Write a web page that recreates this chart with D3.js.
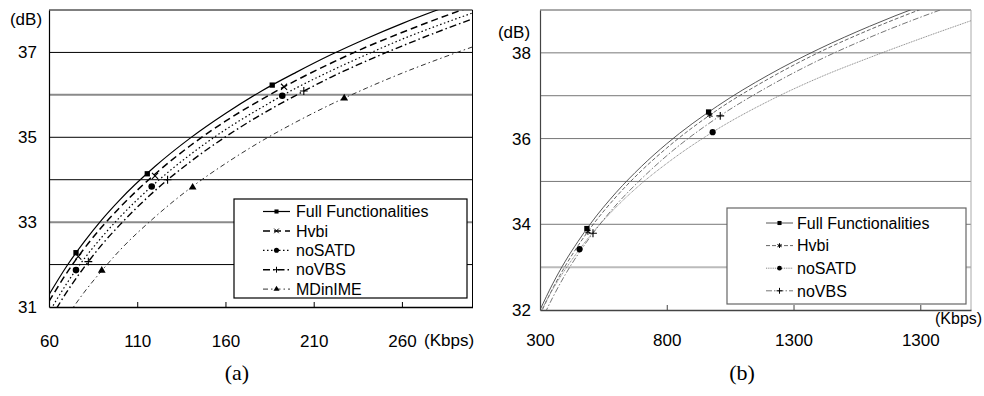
<!DOCTYPE html>
<html>
<head>
<meta charset="utf-8">
<script src="https://cdn.jsdelivr.net/npm/d3@7"></script>
<style>
  body { margin: 0; background: #fff; }
  text { font-family: "Liberation Sans", Arial, sans-serif; }
</style>
</head>
<body>
<svg id="chart" width="984" height="396"></svg>
<script>
// ---- panel (a) data: bit rate (Kbps) vs PSNR (dB) ----
const rateA = [60, 70, 80, 90, 100, 120, 140, 160, 180, 200, 220, 240, 260, 280, 300];
const fullA = [31.29, 31.96, 32.54, 33.06, 33.52, 34.31, 34.98, 35.56, 36.08, 36.53, 36.95, 37.33, 37.68, 38.00, 38.30];
const hvbiA = [31.13, 31.80, 32.38, 32.89, 33.34, 34.13, 34.80, 35.38, 35.88, 36.34, 36.75, 37.13, 37.47, 37.79, 38.09];
const nosatdA = [30.87, 31.55, 32.14, 32.65, 33.11, 33.91, 34.59, 35.18, 35.69, 36.16, 36.57, 36.95, 37.31, 37.63, 37.93];
const novbsA = [30.67, 31.35, 31.94, 32.47, 32.93, 33.74, 34.42, 35.01, 35.53, 35.99, 36.42, 36.80, 37.15, 37.48, 37.79];
const mdinimeA = [30.09, 30.76, 31.35, 31.86, 32.33, 33.12, 33.80, 34.38, 34.90, 35.36, 35.78, 36.16, 36.51, 36.83, 37.13];
// measured points (markers)
const fullPtsA = [[75.3, 32.28], [115.7, 34.14], [186.5, 36.23]];
const hvbiPtsA = [[76.6, 32.19], [120.1, 34.09], [193.2, 36.19]];
const nosatdPtsA = [[75.3, 31.87], [118.2, 33.84], [192.2, 35.98]];
const novbsPtsA = [[82.3, 32.07], [127.2, 34.00], [204.4, 36.09]];
const mdinimePtsA = [[89.9, 31.86], [141.4, 33.82], [227.3, 35.92]];
const xTicksA = [60, 110, 160, 210, 260];
const xLabelsA = ["60", "110", "160", "210", "260"];
const yTicksA = [31, 33, 35, 37];
const gridA = [32, 33, 34, 35, 36, 37];

// ---- panel (b) data ----
const rateB = [300, 350, 400, 450, 500, 600, 700, 800, 1000, 1200, 1400, 1600, 1800, 2000];
const fullB = [32.00, 32.61, 33.14, 33.60, 34.02, 34.74, 35.35, 35.88, 36.76, 37.48, 38.09, 38.62, 39.09, 39.50];
const hvbiB = [31.89, 32.50, 33.03, 33.50, 33.92, 34.64, 35.25, 35.78, 36.67, 37.39, 38.01, 38.54, 39.01, 39.42];
const nosatdB = [31.93, 32.48, 32.95, 33.37, 33.75, 34.40, 34.95, 35.42, 36.22, 36.87, 37.42, 37.89, 38.33, 38.75];
const novbsB = [31.68, 32.29, 32.83, 33.30, 33.72, 34.45, 35.06, 35.60, 36.49, 37.21, 37.83, 38.36, 38.83, 39.25];
const fullPtsB = [[485, 33.90], [965, 36.62]];
const hvbiPtsB = [[489, 33.83], [970, 36.55]];
const nosatdPtsB = [[456, 33.42], [981, 36.15]];
const novbsPtsB = [[509, 33.79], [1011, 36.53]];
const xTicksB = [300, 800, 1300, 1800];
const xLabelsB = ["300", "800", "1300", "1300"];
const yTicksB = [32, 34, 36, 38];
const gridB = [33, 34, 35, 36, 37, 38];

const svg = d3.select("#chart");
svg.append("rect").attr("width", 984).attr("height", 396).attr("fill", "#fff");

function drawPanel(p) {
  const x = d3.scaleLinear().domain(p.xDomain).range(p.xRange);
  const y = d3.scaleLinear().domain(p.yDomain).range(p.yRange);
  const [x0, x1] = p.xRange;
  const [yb, yt] = p.yRange;
  const g = svg.append("g");

  // clip for curves
  svg.append("clipPath").attr("id", "clip-" + p.id)
    .append("rect")
    .attr("x", x0).attr("y", yt)
    .attr("width", x1 - x0).attr("height", yb - yt);

  // gridlines
  g.selectAll(".grid").data(p.grid).join("line")
    .attr("x1", x0).attr("x2", x1)
    .attr("y1", (d) => y(d)).attr("y2", (d) => y(d))
    .attr("stroke", (d) => (p.heavyGrid.includes(d) ? p.heavyColor : p.gridColor))
    .attr("stroke-width", (d) => (p.heavyGrid.includes(d) ? p.heavyWidth : 1));

  // frame top / right
  g.append("line").attr("x1", x0).attr("x2", x1).attr("y1", yt).attr("y2", yt)
    .attr("stroke", p.frameColor).attr("stroke-width", 1);
  g.append("line").attr("x1", x1).attr("x2", x1).attr("y1", yt).attr("y2", yb)
    .attr("stroke", p.rightColor).attr("stroke-width", 1);

  // curves
  const line = d3.line()
    .x((d) => x(d[0]))
    .y((d) => y(d[1]))
    .curve(d3.curveMonotoneX);

  const curves = g.append("g").attr("clip-path", `url(#clip-${p.id})`);
  p.series.forEach((s) => {
    curves.append("path")
      .datum(p.rates.map((r, i) => [r, s.values[i]]))
      .attr("d", line)
      .attr("fill", "none")
      .attr("stroke", s.color)
      .attr("stroke-width", s.width)
      .attr("stroke-dasharray", s.dash);
  });

  // markers
  p.series.forEach((s) => {
    g.selectAll(null).data(s.pts).join("path")
      .attr("transform", (d) => `translate(${x(d[0])},${y(d[1])})`)
      .attr("d", d3.symbol(s.symbol, s.size))
      .attr("fill", s.stroke ? "none" : "#000")
      .attr("stroke", s.stroke ? "#000" : "none")
      .attr("stroke-width", 1.1);
  });

  // axes
  const xAxis = d3.axisBottom(x)
    .tickValues(p.xTicks)
    .tickFormat((d, i) => p.xLabels[i])
    .tickSizeInner(-5)
    .tickSizeOuter(0)
    .tickPadding(p.xPad);
  const gx = g.append("g").attr("transform", `translate(0,${yb})`).call(xAxis);
  gx.select(".domain").attr("stroke", p.axisColor).attr("stroke-width", 1.5);
  gx.selectAll(".tick line").attr("stroke", p.axisColor);
  gx.selectAll("text").attr("fill", "#000").style("font-size", "17px")
    .style("font-family", '"Liberation Sans", Arial, sans-serif');

  const yAxis = d3.axisLeft(y)
    .tickValues(p.yTicks)
    .tickFormat(d3.format("d"))
    .tickSize(0)
    .tickPadding(p.yPad);
  const gy = g.append("g").attr("transform", `translate(${x0},0)`).call(yAxis);
  gy.select(".domain").attr("stroke", p.axisColor).attr("stroke-width", 1.2);
  gy.selectAll("text").attr("fill", "#000").style("font-size", "17px")
    .style("font-family", '"Liberation Sans", Arial, sans-serif');

  // unit labels
  g.append("text").attr("x", p.dbPos[0]).attr("y", p.dbPos[1])
    .attr("text-anchor", "middle").style("font-size", "17px").text("(dB)");
  g.append("text").attr("x", p.kbpsPos[0]).attr("y", p.kbpsPos[1])
    .attr("text-anchor", "start").style("font-size", p.kbpsSize).text("(Kbps)");

  // legend
  const lg = g.append("g");
  lg.append("rect")
    .attr("x", p.legend.x).attr("y", p.legend.y)
    .attr("width", p.legend.w).attr("height", p.legend.h)
    .attr("fill", "#fff").attr("stroke", p.legend.stroke).attr("stroke-width", 1.2);
  p.series.forEach((s, i) => {
    const ly = p.legend.rowY + i * p.legend.step;
    lg.append("line")
      .attr("x1", p.legend.sx).attr("x2", p.legend.sx + 27)
      .attr("y1", ly).attr("y2", ly)
      .attr("stroke", s.color).attr("stroke-width", s.width)
      .attr("stroke-dasharray", s.dash);
    lg.append("path")
      .attr("transform", `translate(${p.legend.sx + 13.5},${ly})`)
      .attr("d", d3.symbol(s.symbol, s.size * 0.6))
      .attr("fill", s.stroke ? "none" : "#000")
      .attr("stroke", s.stroke ? "#000" : "none");
    lg.append("text")
      .attr("x", p.legend.tx).attr("y", ly)
      .attr("dy", "0.36em")
      .style("font-size", "16px")
      .text(s.name);
  });

  // caption
  g.append("text").attr("x", p.caption[0]).attr("y", p.caption[1])
    .attr("text-anchor", "middle")
    .style("font-family", '"Liberation Serif", "Times New Roman", serif')
    .style("font-size", "22px")
    .text(p.captionText);
}

drawPanel({
  id: "a",
  xDomain: [60, 300], xRange: [49, 472.5],
  yDomain: [31, 38], yRange: [307, 10],
  rates: rateA,
  grid: gridA, heavyGrid: [33, 36], gridColor: "#000", heavyColor: "#8a8a8a", heavyWidth: 2,
  frameColor: "#000", rightColor: "#000", axisColor: "#000",
  xTicks: xTicksA, xLabels: xLabelsA, xPad: 28, yTicks: yTicksA, yPad: 12,
  dbPos: [26, 25], kbpsPos: [424, 346], kbpsSize: "17px",
  series: [
    { name: "Full Functionalities", values: fullA, pts: fullPtsA, color: "#000", width: 1.2, dash: null, symbol: d3.symbolSquare, size: 28 },
    { name: "Hvbi", values: hvbiA, pts: hvbiPtsA, color: "#000", width: 1.5, dash: "7,4", symbol: d3.symbolX, size: 26, stroke: true },
    { name: "noSATD", values: nosatdA, pts: nosatdPtsA, color: "#000", width: 1.2, dash: "1.5,2.5", symbol: d3.symbolCircle, size: 34 },
    { name: "noVBS", values: novbsA, pts: novbsPtsA, color: "#000", width: 1.4, dash: "7,3,1.5,3", symbol: d3.symbolPlus, size: 22, stroke: true },
    { name: "MDinIME", values: mdinimeA, pts: mdinimePtsA, color: "#333", width: 1, dash: "5,3,1.5,3", symbol: d3.symbolTriangle, size: 26 }
  ],
  legend: { x: 234, y: 199, w: 233, h: 99, stroke: "#000", rowY: 211.5, step: 19.4, sx: 263, tx: 296 },
  caption: [237, 380], captionText: "(a)"
});

drawPanel({
  id: "b",
  xDomain: [300, 2000], xRange: [540, 971],
  yDomain: [32, 39], yRange: [310, 10],
  rates: rateB,
  grid: gridB, heavyGrid: [33], gridColor: "#777", heavyColor: "#bbb", heavyWidth: 2,
  frameColor: "#555", rightColor: "#aaa", axisColor: "#444",
  xTicks: xTicksB, xLabels: xLabelsB, xPad: 24, yTicks: yTicksB, yPad: 9,
  dbPos: [514, 38], kbpsPos: [935, 324], kbpsSize: "16px",
  series: [
    { name: "Full Functionalities", values: fullB, pts: fullPtsB, color: "#444", width: 0.9, dash: null, symbol: d3.symbolSquare, size: 28 },
    { name: "Hvbi", values: hvbiB, pts: hvbiPtsB, color: "#555", width: 0.9, dash: "4,2", symbol: d3.symbolAsterisk, size: 26, stroke: true },
    { name: "noSATD", values: nosatdB, pts: nosatdPtsB, color: "#777", width: 0.9, dash: "1,0.8", symbol: d3.symbolCircle, size: 30 },
    { name: "noVBS", values: novbsB, pts: novbsPtsB, color: "#666", width: 0.9, dash: "6,2,1.5,2", symbol: d3.symbolPlus, size: 22, stroke: true }
  ],
  legend: { x: 727, y: 208, w: 239, h: 96, stroke: "#666", rowY: 223, step: 22.6, sx: 766, tx: 797 },
  caption: [742, 380], captionText: "(b)"
});
</script>
</body>
</html>
